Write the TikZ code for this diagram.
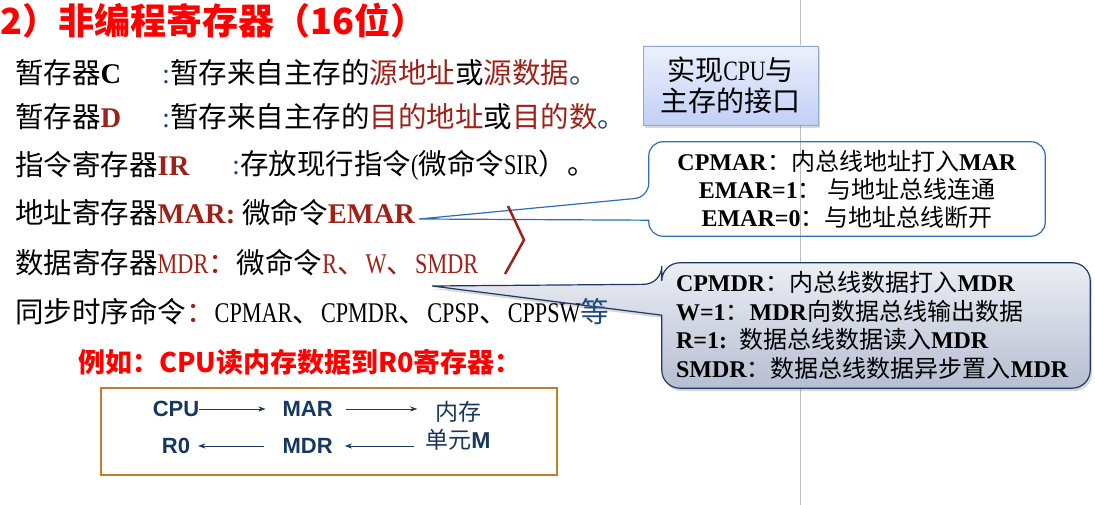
\documentclass[tikz,border=0pt]{standalone}
\usepackage{fontspec}
\setmainfont{Liberation Serif}
\newfontfamily\zhfont{Noto Sans CJK SC}
\newfontfamily\sunfont[FakeStretch=0.78]{Liberation Serif} % narrow latin, like SimSun
\newfontfamily\sansfont{Liberation Sans}
\usetikzlibrary{positioning, arrows.meta, calc, shadows, backgrounds}
\definecolor{hlred}{RGB}{155,35,25}
\definecolor{punct}{RGB}{31,73,125}
\definecolor{navy}{RGB}{23,55,94}
\definecolor{boxorange}{RGB}{192,128,40}
\definecolor{ifaceedge}{RGB}{145,168,215}
\definecolor{noteblue}{RGB}{46,110,184}
\definecolor{notedark}{RGB}{31,56,100}
\tikzset{
    textline/.style={ % one line of the register list
        anchor=west,
        inner sep=0pt,
        font=\fontsize{28.5}{34}\selectfont
    },
    infobox/.style={
        draw=ifaceedge,
        top color={rgb,255:red,236;green,240;blue,252},
        bottom color={rgb,255:red,194;green,208;blue,246},
        minimum width=175pt, minimum height=79pt,
        align=center,
        font=\fontsize{28}{31}\selectfont,
        drop shadow={opacity=0.3, shadow xshift=2pt, shadow yshift=-3pt}
    },
    busnote/.style={ % text of a callout, frame drawn apart
        inner sep=0pt,
        font=\fontsize{24}{28}\selectfont
    },
    chevron/.style={draw=hlred, line width=2.5pt},
    guide/.style={draw={rgb,255:red,190;green,190;blue,190}, line width=1pt},
    unit/.style={
        inner sep=0pt,
        text=navy,
        font=\fontsize{22}{26}\selectfont\sansfont\bfseries
    },
    flow/.style={ % arrows inside the example box
        draw=navy,
        -{Stealth[length=7pt, width=5pt]},
        thin
    },
}
\def\zh#1{{\zhfont #1}}
\def\hl#1{\textcolor{hlred}{#1}}

\begin{document}
\begin{tikzpicture}[x=1pt, y=1pt]
    \useasboundingbox (0,0) rectangle (1095,505);
    % title and register list
    \node[textline, font=\fontsize{36}{40}\selectfont\zhfont\bfseries, text=red] (title) at (0.5,484) {2）非编程寄存器（16位）};
    \node[textline] (regC)      at (15,432)  {\zh{暂存器}\textbf{C}};
    \node[textline] (regCnote)  at (162,432) {\textcolor{punct}{:}\zh{暂存来自主存的\hl{源地址}或\hl{源数据}\textcolor{punct}{。}}};
    \node[textline] (regD)      at (15,388)  {\zh{暂存器}\hl{\textbf{D}}};
    \node[textline] (regDnote)  at (162,388) {\textcolor{punct}{:}\zh{暂存来自主存的\hl{目的地址}或\hl{目的数}\textcolor{punct}{。}}};
    \node[textline] (regIR)     at (15,340)  {\zh{指令寄存器}\hl{\textbf{IR}}};
    \node[textline] (regIRnote) at (232,340) {\textcolor{punct}{:}\zh{存放现行指令}{\sunfont(}\zh{微命令}{\sunfont SIR}\zh{）。}};
    \node[textline] (regMAR)    at (15,292)  {\zh{地址寄存器}\hl{\textbf{MAR:}} \zh{微命令}\hl{\textbf{EMAR}}};
    \node[textline] (regMDR)    at (15,242)  {\zh{数据寄存器}\hl{\sunfont MDR\zh{：}}\zh{微命令}\hl{\sunfont R\zh{、}W\zh{、}SMDR}};
    \node[textline] (timing)    at (15,193)  {\zh{同步时序命令\hl{：}}{\sunfont CPMAR\zh{、}CPMDR\zh{、}CPSP\zh{、}CPPSW}\textcolor{punct}{\zh{等}}};
    \node[textline, font=\fontsize{27}{32}\selectfont\zhfont\bfseries, text=red] (example) at (78,143) {例如：CPU读内存数据到R0寄存器：};

    \node[infobox] (iface) at (730.5,419.5) {\zh{实现}{\sunfont CPU}\zh{与}\\\zh{主存的接口}};
    \draw[chevron] (508,299) -- (524,265) -- (505,231);

    % callouts
    \node[busnote, minimum width=396pt, minimum height=94pt, align=center] (busA) at (847,316)
        {\textbf{CPMAR}\zh{：内总线地址打入}\textbf{MAR}\\
         \textbf{EMAR=1}\zh{：\ 与地址总线连通}\\
         \textbf{EMAR=0}\zh{：与地址总线断开}};
    \coordinate (tipA) at (419,286);
    \node[busnote, font=\fontsize{24}{28.5}\selectfont, inner xsep=14pt, text width=400pt, minimum height=125pt, align=left] (busB) at (876,179.5)
        {\textbf{CPMDR}\zh{：内总线数据打入}\textbf{MDR}\\
         \textbf{W=1}\zh{：}\textbf{MDR}\zh{向数据总线输出数据}\\
         \textbf{R=1:} \zh{数据总线数据读入}\textbf{MDR}\\
         \textbf{SMDR}\zh{：数据总线数据异步置入}\textbf{MDR}};
    \coordinate (tipB) at (432,219);

    \begin{scope}[on background layer]
        \fill[white] (0,0) rectangle (1095,505);
        \draw[guide] (800,0) -- (800,505);
        \draw[noteblue, line width=1.2pt]
            (tipA) -- ($(busA.south west)+(0,16)$) [rounded corners=14pt]
            -- (busA.south west) -- (busA.south east) -- (busA.north east) -- (busA.north west)
            -- ($(busA.south west)+(0,39)$) [sharp corners] -- cycle;
        \path[draw=notedark, line width=1.2pt,
              top color={rgb,255:red,236;green,238;blue,244},
              bottom color={rgb,255:red,182;green,190;blue,210},
              drop shadow={opacity=0.3, shadow xshift=2pt, shadow yshift=-3pt}]
            (tipB) -- ($(busB.south west)+(0,73)$) [rounded corners=18pt]
            -- (busB.south west) -- (busB.south east) -- (busB.north east) -- (busB.north west)
            -- ($(busB.south west)+(0,104)$) [sharp corners] -- cycle;
    \end{scope}

    % example: CPU reads memory into R0
    \draw[boxorange, line width=2pt] (101,117) rectangle (557,30);
    \node[unit]                 (cpu) at (176,96) {CPU};
    \node[unit, right=83pt of cpu] (mar) {MAR};
    \node[unit, font=\fontsize{23}{28}\selectfont, align=center] (mem) at (458,79) {\zh{内存}\\\zh{单元}{\sansfont\bfseries M}};
    \node[unit]                 (r0)  at (176,59) {R0};
    \node[unit]                 (mdr) at (mar |- r0) {MDR};
    \draw[flow, shorten >=17pt] (cpu.east) -- (mar.west);
    \draw[flow, shorten <=13pt, shorten >=8pt] (mar.east) -- (mar.east -| mem.west);
    \draw[flow, shorten <=11pt, shorten >=12pt] (mem.west |- mdr.east) -- (mdr.east);
    \draw[flow, shorten <=18pt, shorten >=8pt] (mdr.west) -- (r0.east);
\end{tikzpicture}
\end{document}
